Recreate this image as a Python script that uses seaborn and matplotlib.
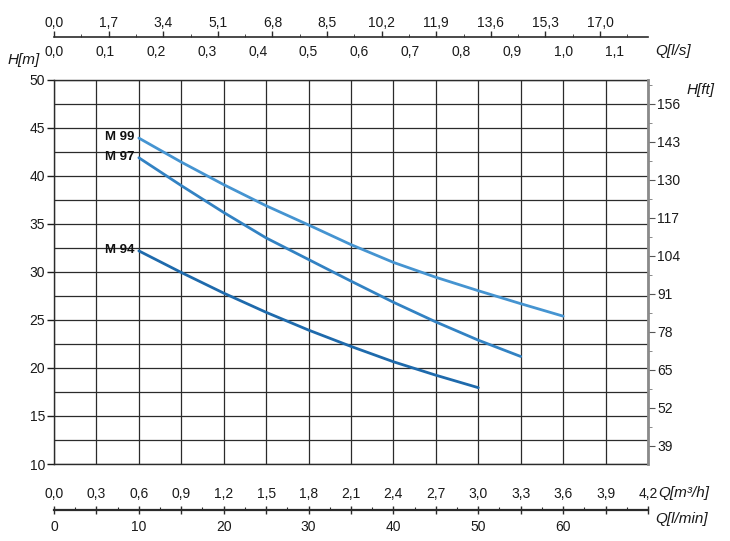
import matplotlib
matplotlib.use('Agg')
import matplotlib.pyplot as plt
import seaborn as sns
import numpy as np
import pandas as pd


# pump curves, flow in l/min, head in m
flow_lmin = [10, 15, 20, 25, 30, 35, 40, 45, 50, 55, 60]
m99_head = [43.95, 41.45, 39.1, 36.9, 34.9, 32.85, 31.0, 29.45, 28.05, 26.7, 25.4]
m97_head = [41.9, 39.0, 36.2, 33.55, 31.3, 29.05, 26.85, 24.8, 22.9, 21.2]
m94_head = [32.2, 29.95, 27.8, 25.8, 23.95, 22.25, 20.65, 19.25, 17.95]
pump_names = ['M 99', 'M 97', 'M 94']
pump_colors = ['#4594d1', '#3282c3', '#1e6aac']

# axis ticks
m_ticks = [10, 15, 20, 25, 30, 35, 40, 45, 50]
ft_ticks = [39, 52, 65, 78, 91, 104, 117, 130, 143, 156]
lps_ticks = [0.0, 0.1, 0.2, 0.3, 0.4, 0.5, 0.6, 0.7, 0.8, 0.9, 1.0, 1.1]
gpm_ticks = [0.0, 1.7, 3.4, 5.1, 6.8, 8.5, 10.2, 11.9, 13.6, 15.3, 17.0]
m3h_ticks = [0.0, 0.3, 0.6, 0.9, 1.2, 1.5, 1.8, 2.1, 2.4, 2.7, 3.0, 3.3, 3.6, 3.9, 4.2]
lmin_ticks = [0, 10, 20, 30, 40, 50, 60]


def comma(v, fmt='{:.1f}'):
    return fmt.format(v).replace('.', ',')


sns.set_style('white')
plt.rcParams['font.family'] = ['Liberation Sans', 'DejaVu Sans']
plt.rcParams['font.size'] = 10

txt = '#1a1a1a'
grid_c = '#2b2b2b'
fs = 10

fig = plt.figure(figsize=(7.3, 5.41), dpi=100)
L, R = 54 / 730, 648 / 730
B, T = 1 - 464 / 541, 1 - 80 / 541
ax = fig.add_axes([L, B, R - L, T - B])

df = pd.concat([
    pd.DataFrame({'flow': flow_lmin[:len(h)], 'head': h, 'pump': n})
    for n, h in zip(pump_names, [m99_head, m97_head, m94_head])
])
sns.lineplot(data=df, x='flow', y='head', hue='pump', palette=pump_colors,
             hue_order=pump_names, linewidth=2.0, legend=False, ax=ax, zorder=5)

ax.set_xlim(0, 70)
ax.set_ylim(10, 50)
ax.set_xlabel('')
ax.set_ylabel('')
ax.set_xticks(np.arange(0, 71, 5))
ax.tick_params(axis='x', length=0, labelbottom=False)
ax.set_yticks(m_ticks)
ax.set_yticks(np.arange(12.5, 50, 5), minor=True)
ax.tick_params(axis='y', which='major', length=5, width=1, color=txt,
               labelsize=fs, labelcolor=txt, pad=1.5, left=True)
ax.tick_params(axis='y', which='minor', length=0)
ax.grid(True, which='both', color=grid_c, linewidth=0.9)
for s in ['left', 'top', 'bottom']:
    ax.spines[s].set_color(grid_c)
    ax.spines[s].set_linewidth(1)
ax.spines['right'].set_visible(False)

# curve names at start points
for n, h in zip(pump_names, [m99_head, m97_head, m94_head]):
    ax.annotate(n, (flow_lmin[0], h[0]), xytext=(-3, 0.5), textcoords='offset points',
                ha='right', va='center', fontsize=9.5, fontweight='bold', color='#111')

# right axis in feet
axr = ax.twinx()
axr.set_ylim(10 / 0.3048, 50 / 0.3048)
axr.set_yticks(ft_ticks)
axr.set_yticks(np.arange(45.5, 163, 13), minor=True)
axr.tick_params(axis='y', which='major', length=5, color='#555', labelsize=fs,
                labelcolor=txt, pad=1.5)
axr.tick_params(axis='y', which='minor', length=3, color='#777')
for s in ['left', 'top', 'bottom']:
    axr.spines[s].set_visible(False)
axr.spines['right'].set_color('#8a8a8a')
axr.spines['right'].set_linewidth(2)

# top flow axis: l/s below, US gpm above
axt = fig.add_axes([L, 1 - 37 / 541, R - L, 0.0001])
axt.set_facecolor('none')
for s in ['left', 'right', 'top']:
    axt.spines[s].set_visible(False)
axt.spines['bottom'].set_color(grid_c)
axt.spines['bottom'].set_linewidth(1.2)
axt.set_xlim(0, 70 / 60)
axt.set_yticks([])
axt.set_xticks(lps_ticks, [comma(v) for v in lps_ticks])
axt.set_xticks(np.arange(0.05, 1.17, 0.1), minor=True)
axt.tick_params(axis='x', which='major', direction='out', length=4, width=1,
                color=grid_c, labelsize=fs, labelcolor=txt, pad=1.5)
axt.tick_params(axis='x', which='minor', direction='out', length=2.5, color=grid_c)
axg = axt.secondary_xaxis('top', functions=(lambda q: q * 60 / 3.78541,
                                            lambda g: g * 3.78541 / 60))
axg.set_xticks(gpm_ticks, [comma(v) for v in gpm_ticks])
axg.set_xticks(np.arange(0.85, 18.5, 1.7), minor=True)
axg.tick_params(axis='x', which='major', direction='out', length=4, width=1,
                color=grid_c, labelsize=fs, labelcolor=txt, pad=1)
axg.tick_params(axis='x', which='minor', direction='out', length=2.5, color=grid_c)
axg.spines['top'].set_visible(False)

# bottom flow axis: m3/h above, l/min below
axb = fig.add_axes([L, 1 - 510 / 541, R - L, 0.0001])
axb.set_facecolor('none')
for s in ['left', 'right', 'top']:
    axb.spines[s].set_visible(False)
axb.spines['bottom'].set_color(grid_c)
axb.spines['bottom'].set_linewidth(1.6)
axb.set_xlim(0, 70)
axb.set_yticks([])
axb.set_xticks(lmin_ticks, [str(v) for v in lmin_ticks])
axb.tick_params(axis='x', which='major', direction='inout', length=8, width=1,
                color=grid_c, labelsize=fs, labelcolor=txt, pad=3)
axm = axb.secondary_xaxis('top', functions=(lambda q: q * 0.06, lambda c: c / 0.06))
axm.set_xticks(m3h_ticks, [comma(v) for v in m3h_ticks])
axm.set_xticks(np.arange(0.15, 4.2, 0.3), minor=True)
axm.tick_params(axis='x', which='major', direction='inout', length=6, width=1,
                color=grid_c, labelsize=fs, labelcolor=txt, pad=3.5)
axm.tick_params(axis='x', which='minor', direction='out', length=2.5, width=0.8,
                color=grid_c)
axm.spines['top'].set_visible(False)

# unit labels
lab = dict(fontsize=11, style='italic', color=txt)
fig.text(40 / 730, 1 - 60 / 541, 'H[m]', ha='right', va='center', **lab)
fig.text(715 / 730, 1 - 90 / 541, 'H[ft]', ha='right', va='center', **lab)
fig.text(655 / 730, 1 - 51 / 541, 'Q[l/s]', ha='left', va='center', **lab)
fig.text(658 / 730, 1 - 493 / 541, 'Q[m³/h]', ha='left', va='center', **lab)
fig.text(708 / 730, 1 - 519 / 541, 'Q[l/min]', ha='right', va='center', **lab)

fig.savefig('out.png', dpi=100)
